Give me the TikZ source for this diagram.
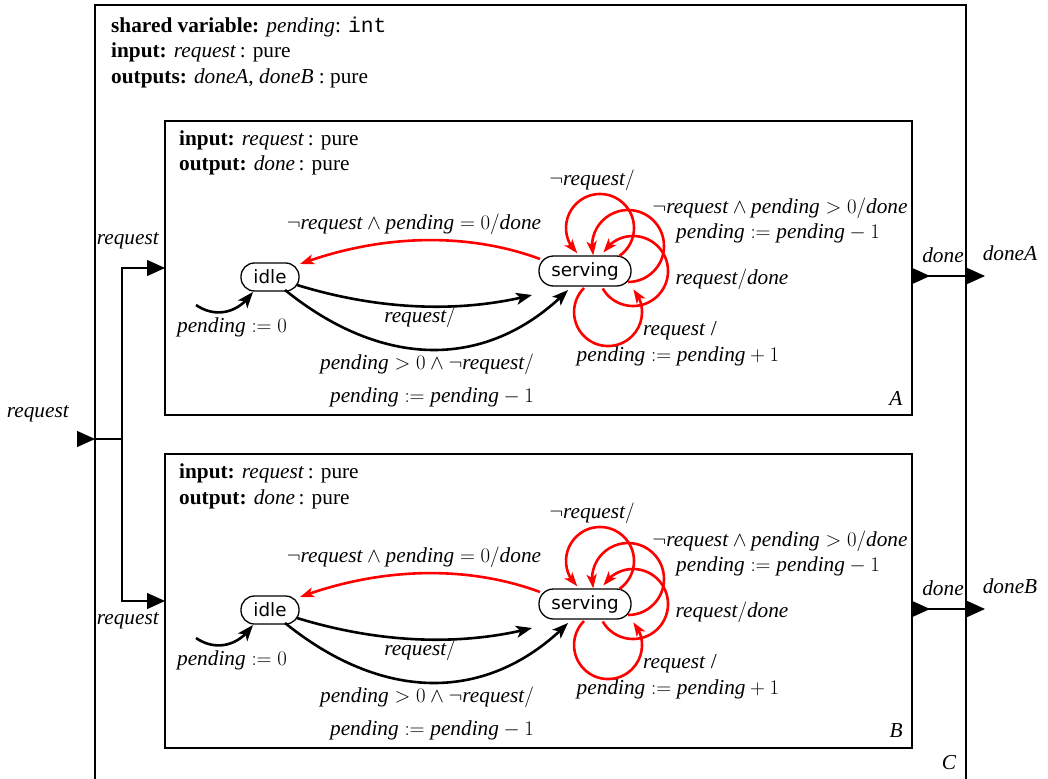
\documentclass[tikz,border=0pt]{standalone}
\usepackage{fontspec}
\setmainfont{Liberation Serif}
\setmonofont{Liberation Mono}
\newfontfamily\statefont{DejaVu Sans}
\usetikzlibrary{arrows.meta,bending}

\tikzset{
  txt/.style={font=\fontsize{21.3}{25.5}\selectfont, inner sep=0pt},
  hdr/.style={txt, anchor=base west},
  lbl/.style={txt, anchor=center},
  state/.style={draw, line width=1.3pt, fill=white, inner sep=0pt,
    font=\statefont\fontsize{18.3}{20}\selectfont},
  boxline/.style={line width=1.3pt},
  blk/.style={line width=2.6pt, -{Stealth[length=16pt,width=12pt,inset=4pt]}},
  redarr/.style={line width=2.6pt, color=red, -{Stealth[length=14pt,width=10pt,inset=3.5pt]}},
  port/.style={line width=1.3pt, -{Triangle[length=18pt,width=16pt]}},
}

% #1 suffix, #2 vertical offset (positive = down), #3 corner label
\newcommand{\fsmpanel}[3]{%
  \draw[boxline] (165,{-121-#2}) rectangle (912,{-415-#2});
  \node[hdr] at (179,{-145.5-#2}) {\textbf{input:} \textit{request}\,: pure};
  \node[hdr] at (179,{-171-#2}) {\textbf{output:} \textit{done}\,: pure};
  \node[lbl] at (896,{-398-#2}) {\textit{#3}};
  \node[state, minimum width=58pt, minimum height=28pt, rounded corners=13.5pt] (idle#1) at (270,{-277-#2}) {idle};
  \node[state, minimum width=92pt, minimum height=30pt, rounded corners=14.5pt] (serving#1) at (585,{-271-#2}) {serving};
  % initial
  \coordinate (init#1) at (196,{-305-#2});
  \draw[blk] (init#1) .. controls (215,{-318-#2}) and (238,{-314-#2}) .. ([shift={(-17,-15)}]idle#1.center);
  \node[lbl] at (232,{-327-#2}) {$\textit{pending} := 0$};
  % serving -> idle (red)
  \draw[redarr] ([shift={(-45,12)}]serving#1.center) .. controls (470,{-233-#2}) and (384,{-233-#2}) .. ([shift={(30,13)}]idle#1.center);
  \node[lbl] at (414,{-224-#2}) {$\neg\textit{request}\wedge\textit{pending}=0/\textit{done}$};
  % idle -> serving (request/)
  \draw[blk] ([shift={(27,-8)}]idle#1.center) .. controls (385,{-312-#2}) and (466,{-312-#2}) .. ([shift={(-53,-24)}]serving#1.center);
  \node[lbl] at (420,{-317-#2}) {$\textit{request}/$};
  % idle -> serving (pending>0)
  \draw[blk] ([shift={(15,-13)}]idle#1.center) .. controls (384,{-370-#2}) and (489,{-370-#2}) .. ([shift={(-17,-19)}]serving#1.center);
  \node[lbl] at (427,{-364-#2}) {$\textit{pending}>0\wedge\neg\textit{request}/$};
  \node[lbl] at (432,{-397-#2}) {$\textit{pending}:=\textit{pending}-1$};
  % self loops
  \draw[redarr] ([shift={(34.5,15.15)}]serving#1.center) arc[start angle=-55, end angle=228, radius=34pt];
  \draw[redarr] ([shift={(43,-11)}]serving#1.center) arc[start angle=-90, end angle=195, radius=36pt];
  \draw[redarr] ([shift={(17.7,-17.5)}]serving#1.center) arc[start angle=210, end angle=508, radius=35pt];
  \draw[redarr] ([shift={(-1,-17)}]serving#1.center) arc[start angle=135, end angle=402, radius=34pt];
  \node[lbl] at (592,{-180-#2}) {$\neg\textit{request}/$};
  \node[lbl] at (780,{-208-#2}) {$\neg\textit{request}\wedge\textit{pending}>0/\textit{done}$};
  \node[lbl] at (778,{-233-#2}) {$\textit{pending}:=\textit{pending}-1$};
  \node[lbl] at (732,{-279-#2}) {$\textit{request}/\textit{done}$};
  \node[lbl] at (680,{-331-#2}) {\textit{request} /};
  \node[lbl] at (678,{-356-#2}) {$\textit{pending}:=\textit{pending}+1$};
  % output port
  \coordinate (out#1) at (912,{-276-#2});
  \coordinate (outtip#1) at (930,{-276-#2});
  \coordinate (ext#1) at (985,{-276-#2});
  \draw[port] (out#1) -- (ext#1);
  \draw[port] (out#1) -- (outtip#1);
  \node[lbl] at (943,{-255-#2}) {\textit{done}};
}

\begin{document}
\begin{tikzpicture}[x=1pt,y=1pt]
  \useasboundingbox (0,-778) rectangle (1048,0);
  \clip (0,-778) rectangle (1048,0);
  % outer box C
  \draw[boxline] (95,-800) -- (95,-5) -- (966,-5) -- (966,-800);
  \node[hdr] at (111,-32.5) {\textbf{shared variable:} \textit{pending}: \texttt{int}};
  \node[hdr] at (111,-58) {\textbf{input:} \textit{request}\,: pure};
  \node[hdr] at (111,-83.5) {\textbf{outputs:} \textit{doneA}, \textit{doneB} : pure};
  \node[lbl] at (949,-763) {\textit{C}};

  \fsmpanel{A}{0}{A}
  \fsmpanel{B}{333}{B}

  \node[lbl] at (1010,-253) {\textit{doneA}};
  \node[lbl] at (1010,-586) {\textit{doneB}};

  % input
  \coordinate (reqin) at (77,-439);
  \coordinate (Cin) at (95,-439);
  \coordinate (split) at (122,-439);
  \coordinate (inA) at (165,-268);
  \coordinate (inB) at (165,-601);
  \draw[port] (reqin) -- (Cin);
  \draw[boxline] (Cin) -- (split);
  \draw[port] (split) |- (inA);
  \draw[port] (split) |- (inB);
  \node[lbl] at (38,-414) {\textit{request}};
  \node[lbl] at (128,-241) {\textit{request}};
  \node[lbl] at (128,-621) {\textit{request}};
\end{tikzpicture}
\end{document}
